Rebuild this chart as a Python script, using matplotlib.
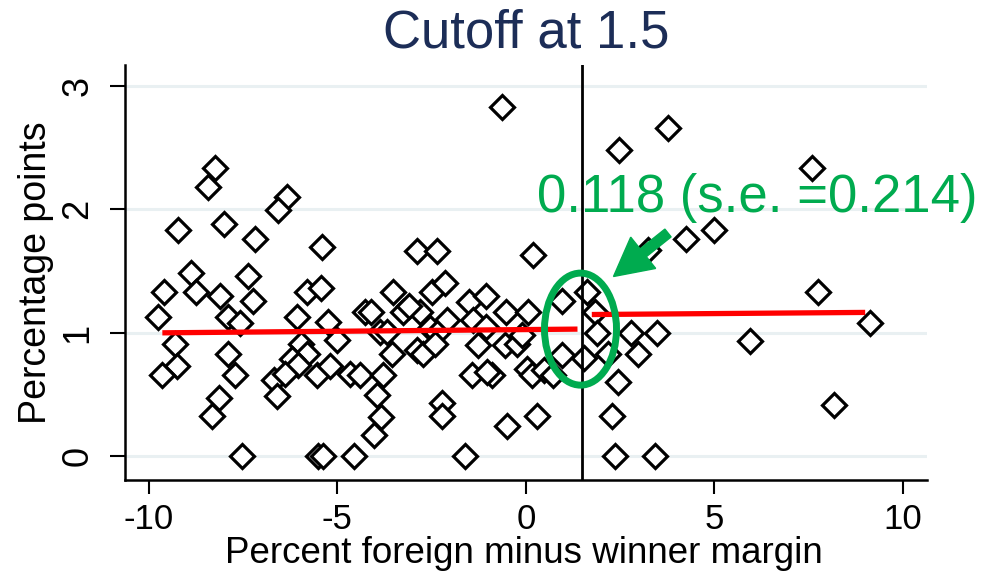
import matplotlib
matplotlib.use("Agg")
import matplotlib.pyplot as plt
from matplotlib.patches import Ellipse, FancyArrow

plt.rcParams['font.family'] = ['Liberation Sans', 'DejaVu Sans']
plt.rcParams['axes.unicode_minus'] = False

# Scatter: percent foreign minus winner margin vs. percentage points
margin = [
    -8.24, -8.44, -6.34, -6.56, -9.23, -8.00, -7.18, -5.41,
    -8.89, -7.38, -9.59, -8.75, -8.11, -7.24, -5.80, -5.43,
    -9.76, -7.89, -7.58, -6.07, -5.25, -5.00, -9.30, -7.89,
    -5.96, -5.81, -6.19, -6.03, -9.24, -9.66, -7.71, -6.68,
    -6.38, -5.54, -5.19, -4.66, -6.61, -8.13, -8.33, -7.52,
    -5.50, -5.37, -4.55,
    -0.62, -2.89, -2.36, 0.19, -3.51, -2.49, -2.14, -1.52,
    -1.06, 0.95, 1.62, -4.26, -4.11, -3.25, -2.80, -3.11,
    -2.10, -1.39, -0.53, 0.07, -1.06, -3.86, -3.69, -2.54,
    -2.36, -3.55, -2.89, -2.74, -2.41, -1.28, -0.55, -0.24,
    -0.09, 0.95, -4.40, -3.78, -1.43, -0.90, -1.03, 0.03,
    0.16, 0.49, 0.73, -3.94, -2.23, -2.23, -3.85, -4.04,
    -0.50, 0.29, -1.61,
    2.47, 3.77, 7.60, 4.25, 4.98, 3.24, 1.84, 1.88,
    2.79, 3.47, 7.75, 9.13, 5.95, 1.55, 2.19, 2.97,
    2.44, 2.28, 8.16, 2.37, 3.43,
]
points = [
    2.33, 2.18, 2.10, 1.99, 1.83, 1.88, 1.76, 1.69,
    1.48, 1.46, 1.33, 1.33, 1.30, 1.26, 1.33, 1.36,
    1.13, 1.13, 1.08, 1.13, 1.09, 0.94, 0.91, 0.83,
    0.91, 0.83, 0.79, 0.74, 0.73, 0.66, 0.66, 0.62,
    0.67, 0.66, 0.73, 0.67, 0.49, 0.47, 0.33, 0.00,
    0.00, 0.00, 0.00,
    2.83, 1.66, 1.66, 1.63, 1.33, 1.33, 1.40, 1.25,
    1.30, 1.26, 1.33, 1.17, 1.17, 1.17, 1.17, 1.22,
    1.10, 1.10, 1.17, 1.17, 1.05, 1.01, 1.01, 1.04,
    1.00, 0.83, 0.86, 0.83, 0.91, 0.90, 0.90, 0.91,
    0.98, 0.82, 0.66, 0.66, 0.66, 0.66, 0.68, 0.71,
    0.66, 0.70, 0.66, 0.50, 0.43, 0.33, 0.32, 0.17,
    0.25, 0.33, 0.00,
    2.48, 2.66, 2.33, 1.76, 1.83, 1.67, 1.17, 1.00,
    1.00, 1.00, 1.33, 1.08, 0.93, 0.80, 0.83, 0.83,
    0.60, 0.33, 0.42, 0.00, 0.00,
]

# Fitted lines on each side of the cutoff
cutoff = 1.5
left_fit_x = [-9.64, 1.37]
left_fit_y = [1.000, 1.030]
right_fit_x = [1.75, 9.00]
right_fit_y = [1.148, 1.165]

estimate = 0.118
std_err = 0.214

x_ticks = [-10, -5, 0, 5, 10]
y_ticks = [0, 1, 2, 3]

green = '#00ab4f'

fig = plt.figure(figsize=(9.97, 5.74), dpi=100)
ax = fig.add_axes([0.1254, 0.1638, 0.8044, 0.7230])

ax.set_xlim(-10.63, 10.64)
ax.set_ylim(-0.19, 3.166)

for yv in y_ticks:
    ax.axhline(yv, color='#e9f0f2', lw=2.2, zorder=0)

ax.plot(margin, points, linestyle='none', marker='D', ms=12.5,
        mfc='white', mec='black', mew=2.3, zorder=3)

ax.plot(left_fit_x, left_fit_y, color='#ff0000', lw=3.8, zorder=4,
        solid_capstyle='butt')
ax.plot(right_fit_x, right_fit_y, color='#ff0000', lw=3.8, zorder=4,
        solid_capstyle='butt')

ax.axvline(cutoff, color='black', lw=2.0, zorder=5)

ax.add_patch(Ellipse((1.45, 1.03), width=1.91, height=0.906,
                     fill=False, edgecolor=green, lw=5.0, zorder=6))

ax.text(0.30, 1.98, f"{estimate:.3f} (s.e. ={std_err:.3f})", color=green,
        fontsize=38, ha='left', va='baseline', zorder=7)

# Arrow pointing at the discontinuity (figure inches)
arrow = FancyArrow(6.68, 3.41, -0.545, -0.435, width=0.10,
                   head_width=0.40, head_length=0.38,
                   length_includes_head=True, color=green,
                   transform=fig.dpi_scale_trans, zorder=8)
fig.patches.append(arrow)

for side in ['top', 'right']:
    ax.spines[side].set_visible(False)
for side in ['left', 'bottom']:
    ax.spines[side].set_linewidth(1.8)
    ax.spines[side].set_color('black')

ax.set_xticks(x_ticks)
ax.set_yticks(y_ticks)
ax.tick_params(axis='x', length=10, width=1.5, pad=6.5, labelsize=25)
ax.tick_params(axis='y', length=10.5, width=1.5, pad=11, labelsize=26,
               labelrotation=90)
for lbl in ax.get_yticklabels():
    lbl.set_va('center')

ax.set_xlabel("Percent foreign minus winner margin", fontsize=26.5,
              va='center')
ax.xaxis.set_label_coords(0.497, -0.178)
ax.set_ylabel("Percentage points", fontsize=27, va='center')
ax.yaxis.set_label_coords(-0.111, 0.5)

ax.set_title("Cutoff at 1.5", fontsize=38, color='#1c2d57', va='center',
             y=1.055)

fig.savefig("out.png", dpi=100)
